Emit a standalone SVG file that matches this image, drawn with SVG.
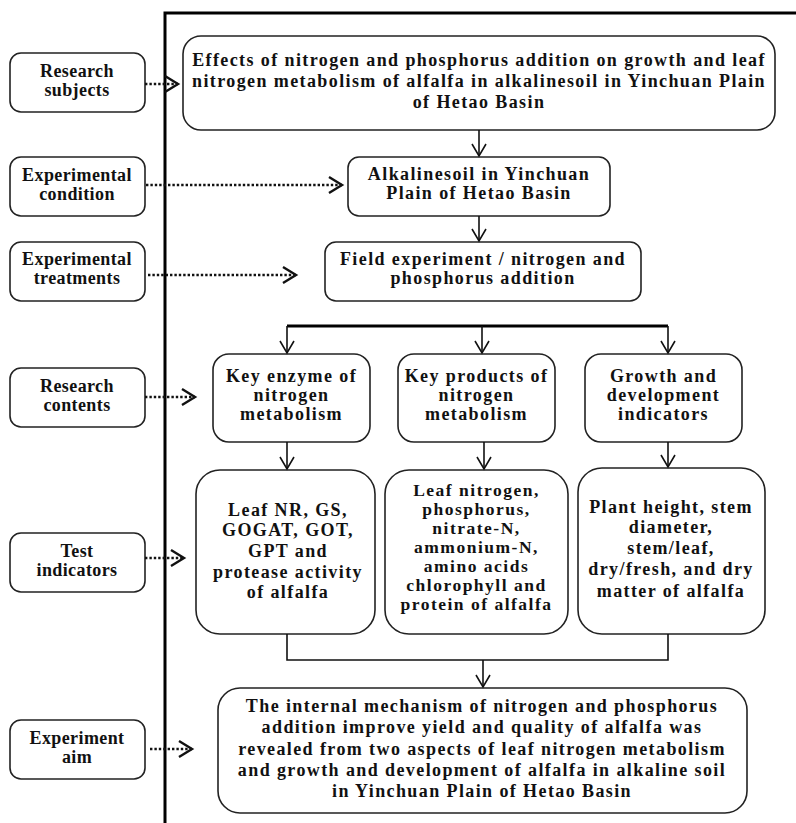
<svg xmlns="http://www.w3.org/2000/svg" width="796" height="823" viewBox="0 0 796 823">
<defs>
<marker id="v" markerUnits="userSpaceOnUse" orient="auto" refX="0" refY="0" markerWidth="20" markerHeight="20" overflow="visible">
<path d="M-12,-7 L0,0 L-12,7" fill="none" stroke="#111" stroke-width="1.6"/>
</marker>
<marker id="chev" markerUnits="userSpaceOnUse" orient="auto" refX="0" refY="0" markerWidth="20" markerHeight="20" overflow="visible">
<path d="M-13,-8 L0,0 L-13,8" fill="none" stroke="#111" stroke-width="2.4"/>
</marker>
<style>
.box{fill:#fff;stroke:#222;stroke-width:1.6}
.lbl{font-family:"Liberation Serif","Times New Roman",serif;font-weight:bold;font-size:18px;letter-spacing:0.4px;fill:#111;text-anchor:middle}
.t{font-family:"Liberation Serif","Times New Roman",serif;font-weight:bold;font-size:18px;letter-spacing:1.4px;fill:#111;text-anchor:middle}
.s{font-size:17.5px;letter-spacing:1.5px}
.dot{fill:none;stroke:#111;stroke-width:2.4;stroke-dasharray:2.4 2;marker-end:url(#chev)}
.sol{fill:none;stroke:#111;stroke-width:1.6;marker-end:url(#v)}
.ln{fill:none;stroke:#111;stroke-width:1.6}
</style>
</defs>
<rect width="796" height="823" fill="#fff"/>
<g id="frame">
<path d="M165,823 V13 H796" fill="none" stroke="#000" stroke-width="3"/>
</g>
<g id="research-subjects">
<rect class="box" x="10" y="53" width="135" height="59" rx="11"/>
<text class="lbl" x="77" y="77">Research</text>
<text class="lbl" x="77" y="96">subjects</text>
</g>
<g id="experimental-condition">
<rect class="box" x="10" y="157" width="135" height="59" rx="11"/>
<text class="lbl" x="77" y="181">Experimental</text>
<text class="lbl" x="77" y="200">condition</text>
</g>
<g id="experimental-treatments">
<rect class="box" x="10" y="242" width="135" height="59" rx="11"/>
<text class="lbl" x="77" y="265">Experimental</text>
<text class="lbl" x="77" y="284">treatments</text>
</g>
<g id="research-contents">
<rect class="box" x="10" y="368" width="135" height="59" rx="11"/>
<text class="lbl" x="77" y="392">Research</text>
<text class="lbl" x="77" y="411">contents</text>
</g>
<g id="test-indicators">
<rect class="box" x="10" y="533" width="135" height="59" rx="11"/>
<text class="lbl" x="77" y="557">Test</text>
<text class="lbl" x="77" y="576">indicators</text>
</g>
<g id="experiment-aim">
<rect class="box" x="10" y="720" width="135" height="59" rx="11"/>
<text class="lbl" x="77" y="744">Experiment</text>
<text class="lbl" x="77" y="763">aim</text>
</g>
<g id="title">
<rect class="box" x="183" y="36" width="592" height="94" rx="18"/>
<text class="t" x="479" y="66">Effects of nitrogen and phosphorus addition on growth and leaf</text>
<text class="t" x="479" y="87">nitrogen metabolism of alfalfa in alkalinesoil in Yinchuan Plain</text>
<text class="t" x="479" y="108">of Hetao Basin</text>
</g>
<g id="condition">
<rect class="box" x="348" y="157" width="262" height="59" rx="11"/>
<text class="t" x="479" y="180">Alkalinesoil in Yinchuan</text>
<text class="t" x="479" y="199">Plain of Hetao Basin</text>
</g>
<g id="treatment">
<rect class="box" x="325" y="242" width="316" height="59" rx="11"/>
<text class="t" x="483" y="265">Field experiment / nitrogen and</text>
<text class="t" x="483" y="284">phosphorus addition</text>
</g>
<g id="key-enzyme">
<rect class="box" x="213" y="354" width="157" height="88" rx="16"/>
<text class="t" x="291.5" y="382">Key enzyme of</text>
<text class="t" x="291.5" y="401">nitrogen</text>
<text class="t" x="291.5" y="420">metabolism</text>
</g>
<g id="key-products">
<rect class="box" x="398" y="354" width="157" height="88" rx="16"/>
<text class="t" x="476.5" y="382">Key products of</text>
<text class="t" x="476.5" y="401">nitrogen</text>
<text class="t" x="476.5" y="420">metabolism</text>
</g>
<g id="growth">
<rect class="box" x="585" y="354" width="157" height="88" rx="16"/>
<text class="t" x="663.5" y="382">Growth and</text>
<text class="t" x="663.5" y="401">development</text>
<text class="t" x="663.5" y="420">indicators</text>
</g>
<g id="enzyme-indicators">
<rect class="box" x="196" y="470" width="179" height="164" rx="24"/>
<text class="t" x="288" y="516">Leaf NR, GS,</text>
<text class="t" x="288" y="536">GOGAT, GOT,</text>
<text class="t" x="288" y="557">GPT and</text>
<text class="t" x="288" y="578">protease activity</text>
<text class="t" x="288" y="598">of alfalfa</text>
</g>
<g id="product-indicators">
<rect class="box" x="385" y="470" width="183" height="164" rx="24"/>
<text class="t s" x="476.5" y="496">Leaf nitrogen,</text>
<text class="t s" x="476.5" y="515">phosphorus,</text>
<text class="t s" x="476.5" y="534">nitrate-N,</text>
<text class="t s" x="476.5" y="553">ammonium-N,</text>
<text class="t s" x="476.5" y="572">amino acids</text>
<text class="t s" x="476.5" y="591">chlorophyll and</text>
<text class="t s" x="476.5" y="610">protein of alfalfa</text>
</g>
<g id="growth-indicators">
<rect class="box" x="578" y="468" width="187" height="166" rx="24"/>
<text class="t" x="671" y="513">Plant height, stem</text>
<text class="t" x="671" y="533">diameter,</text>
<text class="t" x="671" y="554">stem/leaf,</text>
<text class="t" x="671" y="575">dry/fresh, and dry</text>
<text class="t" x="671" y="597">matter of alfalfa</text>
</g>
<g id="aim">
<rect class="box" x="218" y="688" width="529" height="125" rx="22"/>
<text class="t" x="482" y="712">The internal mechanism of nitrogen and phosphorus</text>
<text class="t" x="482" y="733">addition improve yield and quality of alfalfa was</text>
<text class="t" x="482" y="755">revealed from two aspects of leaf nitrogen  metabolism</text>
<text class="t" x="482" y="776">and growth and development of alfalfa in alkaline soil</text>
<text class="t" x="482" y="797">in Yinchuan Plain of Hetao Basin</text>
</g>
<g id="connectors">
<path class="dot" d="M145,84 H178"/>
<path class="dot" d="M146,185 H342"/>
<path class="dot" d="M148,275 H296"/>
<path class="dot" d="M145,397 H195"/>
<path class="dot" d="M145,558 H184"/>
<path class="dot" d="M150,749 H192"/>
<path class="sol" d="M479,130 V156"/>
<path class="sol" d="M479,216 V241"/>
<path d="M287,326 H668" fill="none" stroke="#000" stroke-width="3"/>
<path class="sol" d="M287,326 V353"/>
<path class="sol" d="M482,326 V353"/>
<path class="sol" d="M668,326 V353"/>
<path class="sol" d="M287,442 V469"/>
<path class="sol" d="M484,442 V469"/>
<path class="sol" d="M668,442 V467"/>
<path class="ln" d="M287,634 V660 H668 V634"/>
<path class="sol" d="M483,660 V687"/>
</g>
</svg>
